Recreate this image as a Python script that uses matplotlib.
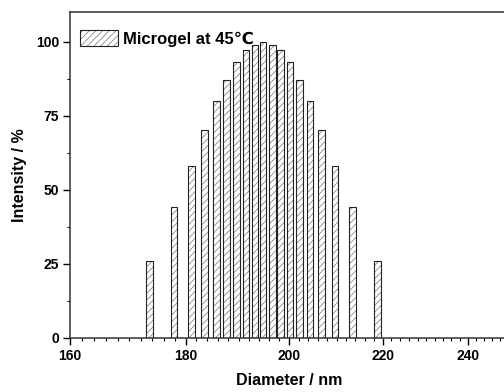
import matplotlib
matplotlib.use("Agg")
import matplotlib.pyplot as plt
import numpy as np
from matplotlib.ticker import FixedLocator, FormatStrFormatter, MultipleLocator, NullFormatter
from matplotlib.legend_handler import HandlerTuple

# size distribution (log diameter axis)
diameter = [173.5, 177.9, 181.1, 183.5, 185.8, 187.7, 189.6, 191.4, 193.2, 194.8,
            196.6, 198.3, 200.2, 202.2, 204.3, 206.8, 209.6, 213.4, 218.8]
intensity = [26, 44, 58, 70, 80, 87, 93, 97, 99, 100,
             99, 97, 93, 87, 80, 70, 58, 44, 26]
xticks = [160, 180, 200, 220, 240]
yticks = [0, 25, 50, 75, 100]

plt.rcParams['font.family'] = ['Liberation Sans', 'DejaVu Sans']
plt.rcParams['font.weight'] = 'bold'
plt.rcParams['hatch.linewidth'] = 0.6

fig = plt.figure(figsize=(5.04, 3.92), dpi=100)
ax = fig.add_axes([70/504, 1 - 337.7/392, 438/504, (337.7 - 12)/392])
ax.set_xscale('log')

# constant width in log space so every bar looks equally wide
d = np.array(diameter)
half = 10 ** 0.00148
left = d / half
right = d * half
# hatch drawn in grey, outline drawn on top in dark grey
hatched = ax.bar(left, intensity, width=right - left, align='edge', color='white',
                 edgecolor='#8a8a8a', linewidth=0, hatch='/////')
outline = ax.bar(left, intensity, width=right - left, align='edge', fill=False,
                 edgecolor='#222222', linewidth=0.8)

ax.set_xlim(160, 250)
ax.set_ylim(0, 110)
ax.xaxis.set_major_locator(FixedLocator(xticks))
ax.xaxis.set_major_formatter(FormatStrFormatter('%d'))
ax.xaxis.set_minor_locator(MultipleLocator(2))
ax.xaxis.set_minor_formatter(NullFormatter())
ax.yaxis.set_major_locator(FixedLocator(yticks))
ax.yaxis.set_minor_locator(MultipleLocator(12.5))

ax.tick_params(which='major', direction='out', length=5, width=1, labelsize=10, pad=3)
ax.tick_params(which='minor', direction='out', length=2.5, width=0.8)
ax.tick_params(top=False, right=False, which='both')
for lab in ax.get_xticklabels() + ax.get_yticklabels():
    lab.set_fontweight('bold')
for s in ax.spines.values():
    s.set_linewidth(1.1)
    s.set_color('#333333')

ax.set_xlabel('Diameter / nm', fontsize=11.5, fontweight='bold', labelpad=7)
ax.set_ylabel('Intensity / %', fontsize=11.5, fontweight='bold', labelpad=6)

leg = ax.legend([(hatched[0], outline[0])], ['Microgel at 45℃'],
                handler_map={tuple: HandlerTuple(ndivide=1)},
                loc='upper left', frameon=False, fontsize=12, handlelength=2.3,
                handleheight=1.1, handletextpad=0.3, borderaxespad=0.2,
                bbox_to_anchor=(0.0, 0.975))
for t in leg.get_texts():
    t.set_fontweight('bold')

plt.savefig('out.png', dpi=100)
